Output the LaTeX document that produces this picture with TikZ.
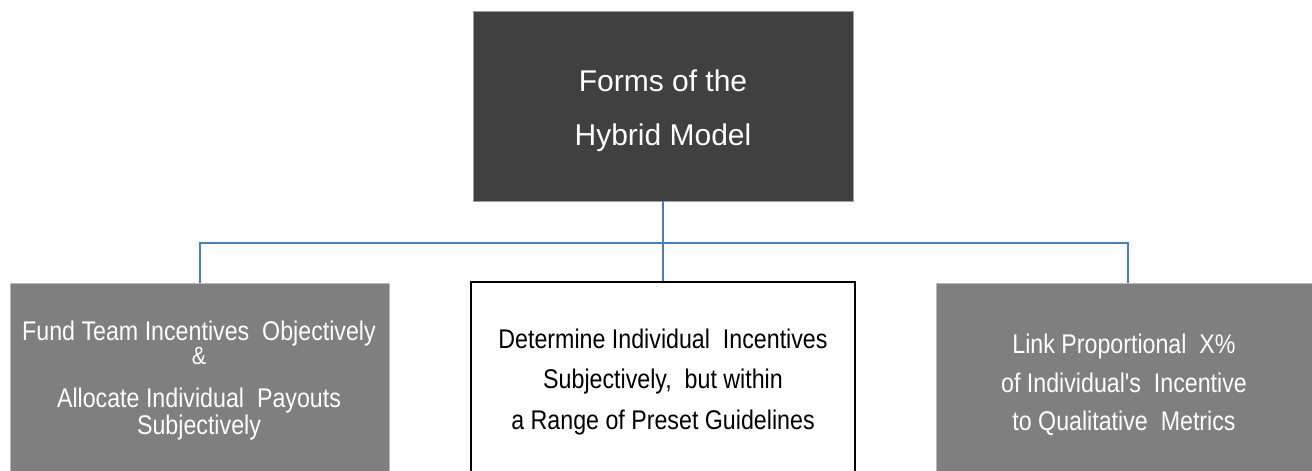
\documentclass[tikz,border=0pt]{standalone}
\usepackage{fontspec}
\setmainfont{Liberation Sans}
\newfontfamily\narrowfont{Liberation Sans}[FakeStretch=0.86]
\definecolor{darkbox}{RGB}{64,64,64}
\definecolor{midgray}{RGB}{127,127,127}
\definecolor{linkblue}{RGB}{74,126,187}
\begin{document}
\begin{tikzpicture}[x=1pt,y=-1pt,
  rootbox/.style={rectangle,fill=darkbox,draw=gray!75,line width=0.8pt,inner sep=0pt},
  sidebox/.style={rectangle,fill=midgray,draw=gray!55,line width=0.8pt,inner sep=0pt},
  centerbox/.style={rectangle,fill=white,draw=black,line width=2pt,inner sep=0pt},
  rootline/.style={anchor=base,text=white,inner sep=0pt,font=\fontsize{30}{36}\selectfont},
  whiteline/.style={anchor=base,text=white,inner sep=0pt,font=\narrowfont\fontsize{27}{32}\selectfont},
  blackline/.style={anchor=base,text=black,inner sep=0pt,font=\narrowfont\fontsize{27}{32}\selectfont},
  link/.style={draw=linkblue,line width=2.4pt}]
\useasboundingbox (0,0) rectangle (1312,471);
\clip (0,0) rectangle (1312,471);

% boxes (lower row runs past the bottom edge)
\node[rootbox,minimum width=380pt,minimum height=190pt] (root) at (663,106) {};
\node[sidebox,minimum width=379pt,minimum height=240pt] (left) at (199.5,403) {};
\node[centerbox,minimum width=384pt,minimum height=240pt] (mid) at (663,402) {};
\node[sidebox,minimum width=376pt,minimum height=240pt] (right) at (1124,403) {};

% connectors
\coordinate (bus) at (663,243);
\coordinate (ldrop) at (200,283);
\coordinate (rdrop) at (1128,283);
\draw[link] (root.south) -- (mid.north);
\draw[link] (ldrop) |- (bus) -| (rdrop);

% root label
\node[rootline] (r1) at (663,91) {Forms of the};
\node[rootline] (r2) at (663,145) {Hybrid Model};

% left label
\node[whiteline] (l1) at (199,340) {Fund Team Incentives\ \ Objectively};
\node[whiteline,font=\narrowfont\fontsize{25}{30}\selectfont] (l2) at (199,364) {\&};
\node[whiteline] (l3) at (199,407) {Allocate Individual\ \ Payouts};
\node[whiteline] (l4) at (199,434) {Subjectively};

% middle label
\node[blackline] (m1) at (663,348) {Determine Individual\ \ Incentives};
\node[blackline] (m2) at (663,388) {Subjectively,\ \ but within};
\node[blackline] (m3) at (663,429) {a Range of Preset Guidelines};

% right label
\node[whiteline] (q1) at (1124,353) {Link Proportional\ \ X\%};
\node[whiteline] (q2) at (1124,392) {of Individual's\ \ Incentive};
\node[whiteline] (q3) at (1124,430) {to Qualitative\ \ Metrics};
\end{tikzpicture}
\end{document}
